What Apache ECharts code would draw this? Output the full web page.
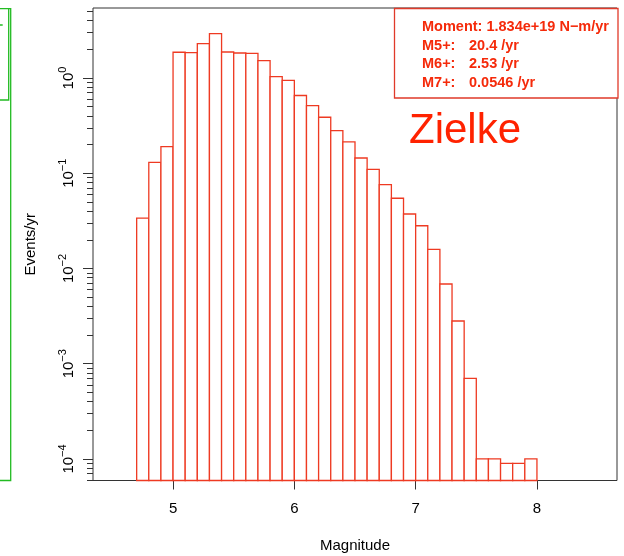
<!DOCTYPE html>
<html>
<head>
<meta charset="utf-8">
<script src="https://cdn.jsdelivr.net/npm/echarts@6/dist/echarts.min.js"></script>
<style>
html,body{margin:0;padding:0;background:#fff;}
#c{width:624px;height:556px;}
</style>
</head>
<body>
<div id="c"></div>
<script>
// ---- data ----
const binStarts = [4.7,4.8,4.9,5.0,5.1,5.2,5.3,5.4,5.5,5.6,5.7,5.8,5.9,6.0,6.1,6.2,6.3,6.4,6.5,6.6,6.7,6.8,6.9,7.0,7.1,7.2,7.3,7.4,7.5,7.6,7.7,7.8,7.9];
const binWidth = 0.1;
const rates = [0.0337,0.1303,0.190,1.862,1.844,2.292,2.918,1.875,1.829,1.816,1.519,1.032,0.946,0.655,0.512,0.387,0.280,0.213,0.1445,0.110,0.0758,0.0546,0.0373,0.0281,0.0159,0.00687,0.00281,0.000703,0.0001,0.0001,0.00009,0.00009,0.0001];
const xTicks = [5,6,7,8];
const yTickExponents = [0,-1,-2,-3,-4];
const legendLabels = ['Moment: 1.834e+19 N\u2212m/yr','M5+:','M6+:','M7+:'];
const legendValues = ['','20.4 /yr','2.53 /yr','0.0546 /yr'];
const modelName = 'Zielke';

const xMin = 4.34, xMax = 8.66;
const yMin = 5.94e-5, yMax = 5.43;

const majorVals = yTickExponents.map(e => Math.pow(10, e));
const minorVals = [];
for (let d = -5; d <= 0; d++) {
  for (let k = 2; k <= 9; k++) {
    const v = k * Math.pow(10, d);
    if (v >= yMin && v <= yMax) minorVals.push(v);
  }
}
const histData = binStarts.map((s, i) => [s, +(s + binWidth).toFixed(2), rates[i]]);

const FONT = '"Liberation Sans", Arial, Helvetica, sans-serif';
const RED = '#f52a0a';
const BAR = '#ee3a22';
const GREEN = '#22bb22';
const AX = '#333';

function supLabel(v) {
  const e = Math.round(Math.log10(v));
  const s = e < 0 ? '\u2212' + (-e) : String(e);
  return '{b|10}{s|' + s + '}';
}

const chart = echarts.init(document.getElementById('c'), null, {renderer: 'canvas'});
const legendGraphics = [];
legendLabels.forEach((t, i) => {
  legendGraphics.push({type: 'text', left: 422, top: 19.5 + i * 18.5,
    style: {text: t, fill: RED, font: 'bold 14.5px ' + FONT}});
  if (legendValues[i]) legendGraphics.push({type: 'text', left: 469, top: 19.5 + i * 18.5,
    style: {text: legendValues[i], fill: RED, font: 'bold 14.5px ' + FONT}});
});

chart.setOption({
  animation: false,
  backgroundColor: '#fff',
  grid: {left: 93, top: 8, width: 524, height: 472.5, show: true, borderColor: AX, borderWidth: 1,
    backgroundColor: 'transparent', containLabel: false, outerBoundsMode: 'none'},
  xAxis: {
    type: 'value', min: xMin, max: xMax,
    name: 'Magnitude', nameLocation: 'middle', nameGap: 58,
    nameTextStyle: {fontFamily: FONT, fontSize: 15, color: '#000'},
    axisLine: {show: false},
    splitLine: {show: false},
    axisTick: {show: true, length: 9, lineStyle: {color: AX}, customValues: xTicks},
    axisLabel: {fontFamily: FONT, fontSize: 15, color: '#000', margin: 21, customValues: xTicks}
  },
  yAxis: [{
    type: 'log', min: yMin, max: yMax, logBase: 10,
    name: 'Events/yr', nameLocation: 'middle', nameGap: 55,
    nameTextStyle: {fontFamily: FONT, fontSize: 15, color: '#000'},
    axisLine: {show: false},
    splitLine: {show: false},
    axisTick: {show: true, length: 10, lineStyle: {color: AX}, customValues: majorVals},
    axisLabel: {
      rotate: 90, margin: 13, customValues: majorVals,
      formatter: supLabel,
      rich: {
        b: {fontFamily: FONT, fontSize: 15, color: '#000'},
        s: {fontFamily: FONT, fontSize: 11, color: '#000', padding: [0, 0, 12, 0]}
      }
    }
  }, {
    type: 'log', min: yMin, max: yMax, logBase: 10, position: 'left',
    axisLine: {show: false}, splitLine: {show: false},
    axisTick: {show: true, length: 6, lineStyle: {color: AX}, customValues: minorVals},
    axisLabel: {show: false}
  }],
  series: [{
    type: 'custom',
    xAxisIndex: 0, yAxisIndex: 0,
    data: histData,
    renderItem: function (params, api) {
      const p0 = api.coord([api.value(0), api.value(2)]);
      const p1 = api.coord([api.value(1), yMin]);
      return {type: 'rect',
        shape: {x: p0[0], y: p0[1], width: p1[0] - p0[0], height: p1[1] - p0[1]},
        style: {fill: '#fff', stroke: BAR, lineWidth: 1.3}};
    }
  }],
  graphic: [
    {type: 'rect', shape: {x: 394.5, y: 8.5, width: 223.5, height: 89.5}, style: {fill: '#fff', stroke: '#e03a2a', lineWidth: 1.3}, z: 10},
    ...legendGraphics.map(g => Object.assign(g, {z: 11})),
    {type: 'text', left: 409, top: 110, z: 11, style: {text: modelName, fill: '#ff2200', font: '42px ' + FONT}},
    {type: 'polyline', shape: {points: [[-2, 8.7], [8.7, 8.7], [8.7, 100], [-2, 100]]}, style: {stroke: GREEN, fill: null, lineWidth: 1.3}},
    {type: 'polyline', shape: {points: [[8.7, 8.7], [10.7, 8.7], [10.7, 480.5], [-2, 480.5]]}, style: {stroke: GREEN, fill: null, lineWidth: 1.3}},
    {type: 'line', shape: {x1: 0, y1: 25, x2: 2.7, y2: 25}, style: {stroke: GREEN, lineWidth: 1.5}}
  ]
});
</script>
</body>
</html>
